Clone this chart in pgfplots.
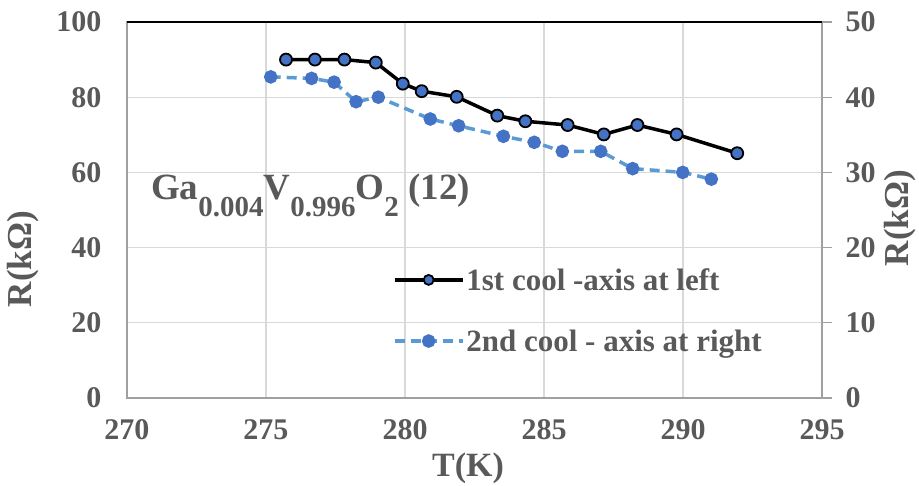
\documentclass[border=0pt]{standalone}
\usepackage{pgfplots}
\pgfplotsset{compat=1.18}
\usepackage{fontspec}
\setmainfont{Liberation Serif}
\definecolor{txt}{HTML}{595959}
\definecolor{grd}{HTML}{D9D9D9}
\definecolor{axl}{HTML}{A0A0A0}
\definecolor{mk}{HTML}{4472C4}
\definecolor{ln2}{HTML}{5B9BD5}
\newcommand{\sub}[1]{\raisebox{-17pt}{\fontsize{29}{32}\selectfont #1}}
\begin{document}
\begin{tikzpicture}[x=1pt,y=1pt]
\path[use as bounding box] (-127,-88) rectangle (792,398);
\pgfplotsset{
  common/.style={scale only axis, width=695pt, height=376pt, at={(0,0)}, anchor=south west,
    xmin=270, xmax=295,
    /pgf/number format/assume math mode=true,
    tick label style={font=\fontsize{30}{32}\selectfont\bfseries, text=txt}},
}
\begin{axis}[common, ymin=0, ymax=100,
  xtick={270,275,...,295}, ytick={0,20,...,100},
  grid=major, major grid style={grd, line width=1.2pt},
  axis line style={axl, line width=1.2pt},
  tick style={draw=none},
  xticklabel style={yshift=-18pt},
  yticklabel style={xshift=-22pt}]
\addplot[black, line width=3.5pt, mark=*, mark size=6pt,
  mark options={fill=mk, draw=black, line width=1.8pt}] coordinates {
(275.72,90) (276.76,90) (277.82,90) (278.95,89.2) (279.92,83.6) (280.6,81.6)
(281.86,80.1) (283.32,75.1) (284.33,73.6) (285.85,72.6) (287.15,70.1)
(288.36,72.6) (289.77,70.1) (291.95,65.1)};
\end{axis}
\begin{axis}[common, ymin=0, ymax=50,
  axis y line*=right, axis x line=none,
  ytick={0,10,...,50},
  axis line style={axl, line width=1.2pt},
  tick style={axl, line width=1.2pt}, major tick length=10pt, tick align=outside,
  yticklabel style={xshift=10pt},
  legend style={draw=none, fill=none, at={(0.378,0.233)}, anchor=west,
    font=\fontsize{31}{34}\selectfont\bfseries, text=txt, row sep=34pt},
  legend cell align=left,
  legend image code/.code={\draw[mark repeat=2, mark phase=2, #1] plot coordinates {(0pt,0pt) (34pt,0pt) (68pt,0pt)};}]
\addlegendimage{black, line width=3.5pt, mark=*, mark size=5pt,
  mark options={fill=mk, draw=black, line width=1.8pt}}
\addlegendentry{1st cool -axis at left}
\addplot[ln2, line width=3.5pt, dash pattern=on 10pt off 6pt, mark=*, mark size=5pt,
  mark options={fill=mk, draw=mk, solid}] coordinates {
(275.17,42.7) (276.64,42.5) (277.45,42.0) (278.24,39.4) (279.04,40.0)
(280.91,37.1) (281.93,36.2) (283.54,34.8) (284.65,34.0) (285.66,32.8)
(287.04,32.8) (288.19,30.5) (289.99,30.0) (291.02,29.1)};
\addlegendentry{2nd cool - axis at right}
\end{axis}
\draw[black, line width=1.5pt] (0,376) -- (695,376);
\node[rotate=90, font=\fontsize{35}{38}\selectfont\bfseries, text=txt] at (-104,139) {R(kΩ)};
\node[rotate=90, font=\fontsize{35}{38}\selectfont\bfseries, text=txt] at (773,180) {R(kΩ)};
\node[font=\fontsize{34}{37}\selectfont\bfseries, text=txt] at (341,-70) {T(K)};
\node[anchor=base west, font=\fontsize{37}{40}\selectfont\bfseries, text=txt, inner sep=0pt] at (24,198)
  {Ga\sub{0.004}V\sub{0.996}O\sub{2} (12)};
\end{tikzpicture}
\end{document}
